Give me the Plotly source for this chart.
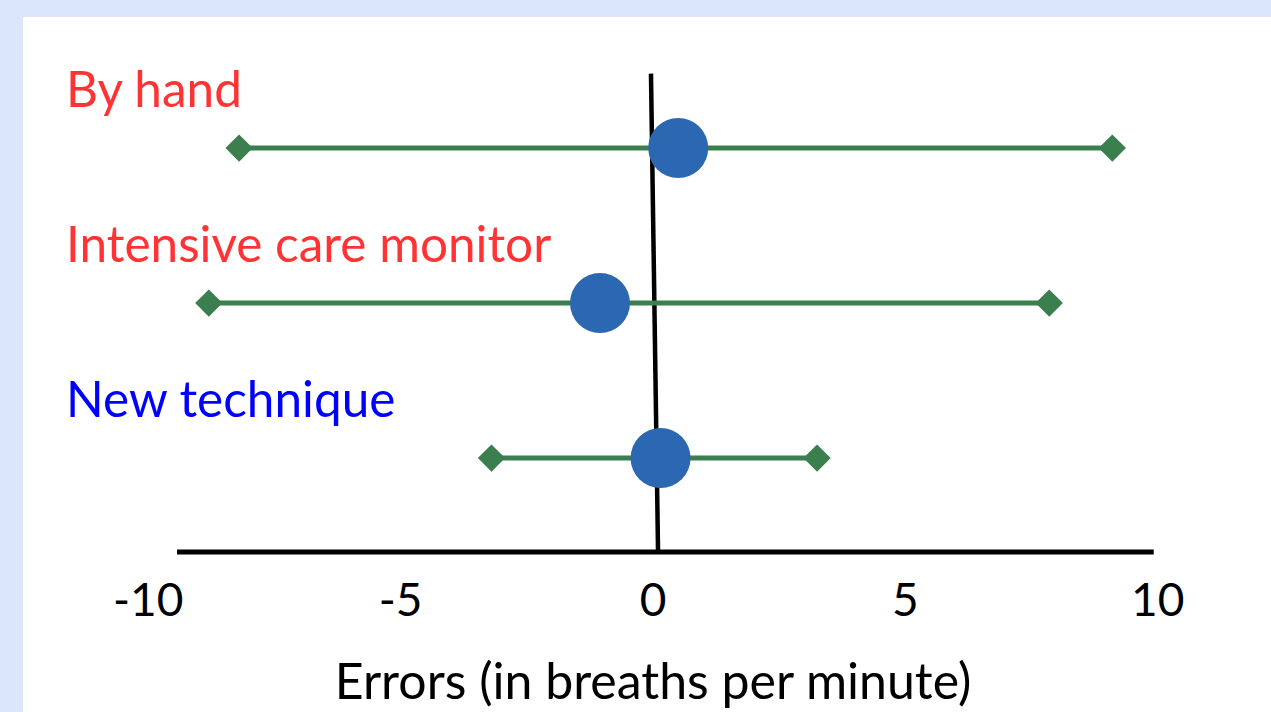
import plotly.graph_objects as go

# methods, top to bottom
methods = ["By hand", "Intensive care monitor", "New technique"]
label_colors = ["#ff3333", "#ff3333", "#0000ff"]
row_pos = [3, 2, 1]
lower = [-8.2, -8.8, -3.2]
mean_err = [0.5, -1.05, 0.15]
upper = [9.1, 7.85, 3.25]

tick_vals = [-10, -5, 0, 5, 10]
tick_text = ["-10", "-5", "0", "5", "10"]

# drawn extent of the axis line and the zero line (slightly slanted on the slide)
axis_line_x = [-9.43, 9.92]
zero_line_x = [-0.04, 0.1]
zero_line_top = 3.48

W, H = 1271, 712
ML, MR, MT, MB = 123, 88, 60, 160
PW, PH = W - ML - MR, H - MT - MB
X_RANGE = [-10.5, 10.5]
Y_RANGE = [0.394, 3.568]
FONT = "Lato"

GREEN = "#3b7f4f"
BLUE = "#2c67b1"


def px_to_paper_x(px):
    return (px - ML) / PW


def px_to_paper_y(py):
    return (H - MB - py) / PH


fig = go.Figure()

for name, y, lo, hi in zip(methods, row_pos, lower, upper):
    fig.add_trace(
        go.Scatter(
            x=[lo, hi],
            y=[y, y],
            mode="lines+markers",
            line={"color": GREEN, "width": 5},
            marker={"symbol": "diamond", "size": 21, "color": GREEN},
            name=name,
            showlegend=False,
            hoverinfo="skip",
        )
    )

fig.add_trace(
    go.Scatter(
        x=mean_err,
        y=row_pos,
        mode="markers",
        marker={"size": 60, "color": BLUE, "line": {"width": 0}},
        text=methods,
        hovertemplate="%{text}: %{x}<extra></extra>",
        showlegend=False,
    )
)

# slide panel, axis line and zero line
shapes = [
    {
        "type": "rect", "xref": "paper", "yref": "paper", "layer": "below",
        "x0": px_to_paper_x(23), "x1": px_to_paper_x(W + 5),
        "y0": px_to_paper_y(H + 5), "y1": px_to_paper_y(17),
        "fillcolor": "white", "line": {"width": 0},
    },
    {
        "type": "line", "xref": "x", "yref": "y", "layer": "below",
        "x0": zero_line_x[0], "y0": zero_line_top, "x1": zero_line_x[1], "y1": Y_RANGE[0],
        "line": {"color": "black", "width": 4.5},
    },
    {
        "type": "line", "xref": "x", "yref": "paper", "layer": "below",
        "x0": axis_line_x[0], "y0": 0, "x1": axis_line_x[1], "y1": 0,
        "line": {"color": "black", "width": 5},
    },
]

annotations = []
for name, y, c in zip(methods, row_pos, label_colors):
    annotations.append(
        {
            "text": name, "x": px_to_paper_x(64), "xref": "paper", "xanchor": "left",
            "y": y + 0.39, "yref": "y", "yanchor": "middle",
            "showarrow": False, "font": {"family": FONT, "size": 49.5, "color": c},
        }
    )

fig.update_layout(
    width=W,
    height=H,
    margin={"l": ML, "r": MR, "t": MT, "b": MB},
    paper_bgcolor="#dce6fa",
    plot_bgcolor="rgba(0,0,0,0)",
    shapes=shapes,
    annotations=annotations,
    xaxis={
        "range": X_RANGE,
        "tickvals": tick_vals,
        "ticktext": tick_text,
        "ticks": "outside",
        "ticklen": 8,
        "tickcolor": "rgba(0,0,0,0)",
        "tickfont": {"family": FONT, "size": 46, "color": "black"},
        "showline": False,
        "showgrid": False,
        "zeroline": False,
        "title": {
            "text": "Errors (in breaths per minute)",
            "font": {"family": FONT, "size": 50, "color": "black"},
            "standoff": 38,
        },
    },
    yaxis={"range": Y_RANGE, "visible": False, "showgrid": False, "zeroline": False},
    showlegend=False,
)

fig.write_html(
    "out.html",
    config={"displayModeBar": False},
    post_script="document.body.style.margin='0';document.body.style.overflow='hidden';",
)
